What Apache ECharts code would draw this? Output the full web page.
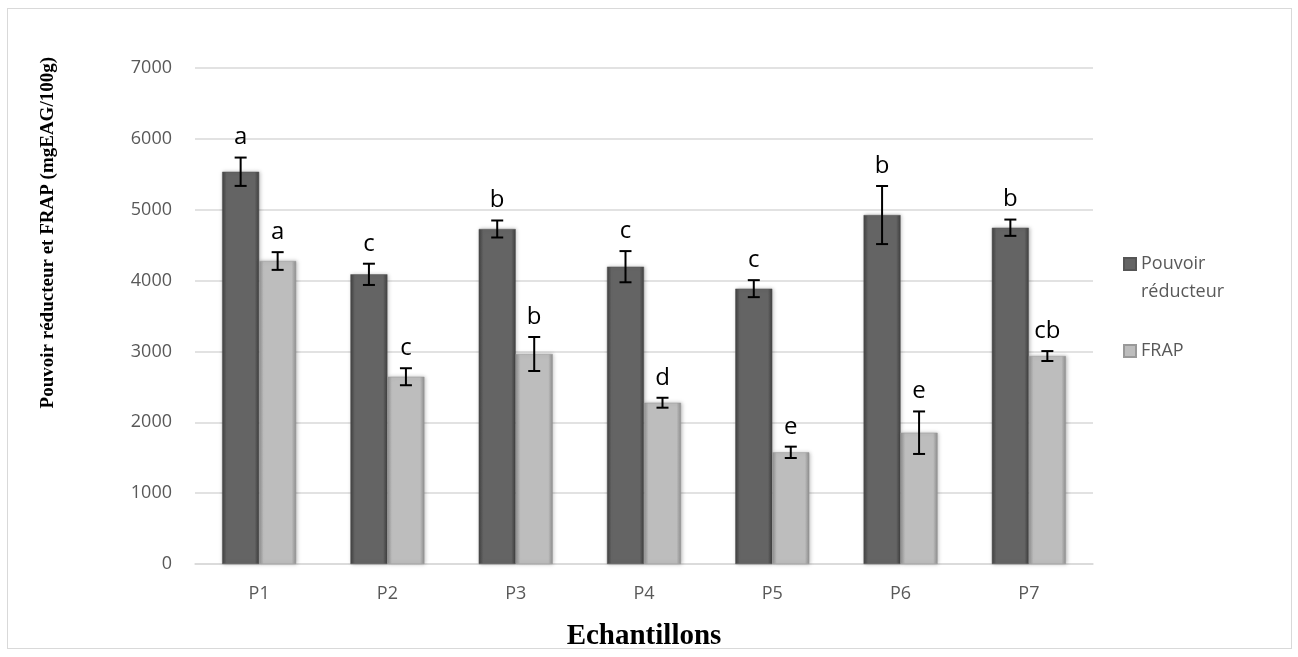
<!DOCTYPE html>
<html>
<head>
<meta charset="utf-8">
<script src="https://cdn.jsdelivr.net/npm/echarts@6/dist/echarts.min.js"></script>
<style>
html,body{margin:0;padding:0;background:#fff;}
#frame{position:absolute;left:7px;top:8px;width:1285px;height:641px;border:1.5px solid #d9d9d9;box-sizing:border-box;}
#chart{position:absolute;left:0;top:0;width:1298px;height:657px;}
</style>
</head>
<body>
<div id="frame"></div>
<div id="chart"></div>
<script>
const categories = ['P1','P2','P3','P4','P5','P6','P7'];
const pouvoirValues = [5536, 4088, 4728, 4196, 3886, 4925, 4746];
const pouvoirErrors = [200, 150, 120, 220, 120, 410, 115];
const pouvoirLetters = ['a','c','b','c','c','b','b'];
const frapValues = [4276, 2643, 2964, 2276, 1576, 1853, 2935];
const frapErrors = [125, 120, 240, 70, 80, 300, 70];
const frapLetters = ['a','c','b','d','e','e','cb'];
const yTicks = [0, 1000, 2000, 3000, 4000, 5000, 6000, 7000];
const yTitle = 'Pouvoir réducteur et FRAP (mgEAG/100g)';
const xTitle = 'Echantillons';

const BAR_W = 37;

function errorSeries(values, errors, letters, side) {
  const data = values.map((v, i) => [i, v, errors[i]]);
  return {
    type: 'custom',
    name: 'err' + side,
    silent: true,
    z: 10,
    renderItem: function (params, api) {
      const idx = api.value(0);
      const v = api.value(1);
      const e = api.value(2);
      const letter = letters[idx];
      const hi = api.coord([idx, v + e]);
      const lo = api.coord([idx, v - e]);
      const x = hi[0] + side * BAR_W / 2;
      const cap = 6;
      const style = { stroke: '#000', lineWidth: 2 };
      return {
        type: 'group',
        children: [
          { type: 'line', shape: { x1: x, y1: hi[1], x2: x, y2: lo[1] }, style: style },
          { type: 'line', shape: { x1: x - cap, y1: hi[1], x2: x + cap, y2: hi[1] }, style: style },
          { type: 'line', shape: { x1: x - cap, y1: lo[1], x2: x + cap, y2: lo[1] }, style: style },
          { type: 'text', style: { text: letter, x: x, y: hi[1] - 8, align: 'center', verticalAlign: 'bottom',
              fill: '#000', font: '24px "Open Sans", sans-serif' } }
        ]
      };
    },
    data: data
  };
}

function grad(edge, mid) {
  return new echarts.graphic.LinearGradient(0, 0, 1, 0, [
    { offset: 0, color: edge },
    { offset: 0.12, color: mid },
    { offset: 0.88, color: mid },
    { offset: 1, color: edge }
  ]);
}

const chart = echarts.init(document.getElementById('chart'), null, { renderer: 'canvas' });
chart.setOption({
  animation: false,
  backgroundColor: 'transparent',
  grid: { left: 195, right: 205, top: 68, bottom: 93 },
  graphic: [
    {
      type: 'text',
      left: 39,
      top: 57,
      style: { text: yTitle, fill: '#000', font: 'bold 19px "Liberation Serif", serif' },
      rotation: Math.PI / 2,
      originX: 0, originY: 0
    }
  ],
  legend: {
    orient: 'vertical',
    left: 1118,
    top: 217,
    itemWidth: 12,
    itemHeight: 12,
    itemGap: 31,
    icon: 'rect',
    textStyle: { color: '#595959', fontSize: 18, fontFamily: '"Open Sans", sans-serif', lineHeight: 28 },
    data: ['Pouvoir réducteur', 'FRAP'],
    formatter: function (n) { return n === 'Pouvoir réducteur' ? ' \nPouvoir\nréducteur' : n; }
  },
  xAxis: {
    type: 'category',
    data: categories,
    name: xTitle,
    nameLocation: 'middle',
    nameGap: 58,
    nameTextStyle: { fontFamily: '"Liberation Serif", serif', fontWeight: 'bold', fontSize: 29, color: '#000' },
    axisLine: { lineStyle: { color: '#d9d9d9', width: 1.5 } },
    axisTick: { show: false },
    axisLabel: { color: '#595959', fontSize: 18, fontFamily: '"Open Sans", sans-serif', margin: 21 }
  },
  yAxis: {
    type: 'value',
    min: yTicks[0],
    max: yTicks[yTicks.length - 1],
    interval: 1000,
    axisLine: { show: false },
    axisTick: { show: false },
    splitLine: { lineStyle: { color: '#d9d9d9', width: 1.5 } },
    axisLabel: { color: '#595959', fontSize: 18, fontFamily: '"Open Sans", sans-serif', margin: 23,
      formatter: function (v) { return String(v); } }
  },
  series: [
    {
      name: 'Pouvoir réducteur',
      type: 'bar',
      barWidth: BAR_W,
      barGap: '0%',
      data: pouvoirValues,
      itemStyle: { color: grad('#404040', '#646464'), borderColor: '#555', borderWidth: 0.5,
        shadowColor: 'rgba(0,0,0,0.25)', shadowBlur: 4, shadowOffsetX: 1 }
    },
    {
      name: 'FRAP',
      type: 'bar',
      barWidth: BAR_W,
      barGap: '0%',
      data: frapValues,
      itemStyle: { color: grad('#8f8f8f', '#bdbdbd'), borderColor: '#999', borderWidth: 0.5,
        shadowColor: 'rgba(0,0,0,0.25)', shadowBlur: 4, shadowOffsetX: 1 }
    },
    errorSeries(pouvoirValues, pouvoirErrors, pouvoirLetters, -1),
    errorSeries(frapValues, frapErrors, frapLetters, 1)
  ]
});
</script>
</body>
</html>
